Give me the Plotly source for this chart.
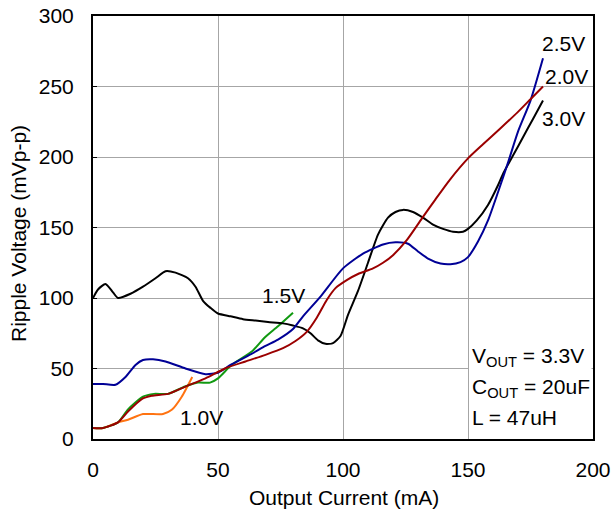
import plotly.graph_objects as go

# 3.0V (black)
x_30 = [0, 2, 5, 8, 10, 15, 20, 25, 29, 33, 38, 41, 44, 47, 50, 55, 60, 65, 70, 76, 80, 84, 87, 90, 93, 96, 99, 102, 106, 110, 114, 118, 121, 124, 128, 132, 136, 140, 144, 148, 150, 153.5, 158, 162, 164, 168, 172, 176, 180]
y_30 = [100, 106, 110, 104, 100, 103, 108, 114, 119, 118, 114, 108, 98, 93, 89, 87, 85, 84, 83, 82, 80.5, 78.5, 75, 70, 67.5, 68, 73, 88, 105, 125, 145, 157, 161, 162.5, 161, 157, 152, 149, 147, 147, 149, 155, 166, 180, 188, 201, 214, 227, 240]

# 2.5V (blue)
x_25 = [0, 4, 9, 13, 17, 20, 24, 29, 37, 45, 50, 55, 63, 69, 74, 80, 84, 91, 100, 108, 116, 121, 126, 130, 134, 139, 143, 147, 150, 154, 158, 162, 166, 170, 175, 180]
y_25 = [39, 39, 38.5, 44, 52.5, 56, 56.5, 55, 50, 46, 47, 52.5, 60, 66, 70.5, 78, 87, 101, 121, 131.5, 138, 139.5, 138.5, 133, 128, 124.5, 124, 125.5, 129, 140, 155, 175, 196, 218, 240, 270]

# 2.0V (dark red)
x_20 = [0, 4, 10, 14, 19.5, 23.5, 30, 37, 45, 53, 61, 69, 76, 81, 85.5, 89.5, 93.5, 97, 101.5, 106, 112, 116, 120, 125.5, 132, 137, 142.8, 150, 156, 162.8, 170, 175, 180]
y_20 = [7.8, 7.8, 11.8, 19.5, 28.3, 30.6, 32, 37.2, 43, 50.2, 55, 59.7, 64.4, 69.5, 76, 86, 98.6, 107, 112.7, 117, 121, 125, 130.4, 141, 157.5, 170, 184, 199, 209, 220, 232, 241, 250]

# 1.5V (green)
x_15 = [0, 4, 10, 14, 20, 24.4, 30, 36.8, 42, 46.8, 50, 55.5, 63.5, 68.8, 74, 80]
y_15 = [7.8, 7.8, 11.8, 21, 30, 32, 32, 37.2, 40, 40, 43, 52.6, 62, 72.2, 80, 89.6]

# 1.0V (orange)
x_10 = [0, 4, 10, 14, 20, 28, 31.5, 35.5, 39.7]
y_10 = [7.8, 7.8, 11.8, 13.7, 17.7, 17.7, 20.7, 30, 44]

x_ticks = [0, 50, 100, 150, 200]
y_ticks = [0, 50, 100, 150, 200, 250, 300]

FONT = "Liberation Sans, Arial, sans-serif"
FS = 21

series = [
    (x_10, y_10, "#ff7311", "1.0V"),
    (x_15, y_15, "#119911", "1.5V"),
    (x_30, y_30, "#000000", "3.0V"),
    (x_25, y_25, "#000096", "2.5V"),
    (x_20, y_20, "#9b0000", "2.0V"),
]

fig = go.Figure()
for xs, ys, col, name in series:
    fig.add_trace(go.Scatter(x=xs, y=ys, mode="lines", name=name,
                             line=dict(color=col, width=2, shape="spline", smoothing=0.6)))

labels = [
    (188, 280.5, "2.5V"),
    (189.5, 257, "2.0V"),
    (188.2, 227, "3.0V"),
    (76, 101.5, "1.5V"),
    (43.5, 15.5, "1.0V"),
]
for lx, ly, t in labels:
    fig.add_annotation(x=lx, y=ly, text=t, showarrow=False,
                       font=dict(family=FONT, size=FS, color="black"))

# white box behind the condition text
fig.add_shape(type="rect", x0=150.4, x1=199.4, y0=0.5, y1=72, layer="between",
              line=dict(width=0), fillcolor="white")

cond = [
    (58.5, "V<sub>OUT</sub> = 3.3V"),
    (36.5, "C<sub>OUT</sub> = 20uF"),
    (15.0, "L = 47uH"),
]
for cy, t in cond:
    fig.add_annotation(x=150.6, y=cy, text=t, showarrow=False, xanchor="left",
                       font=dict(family=FONT, size=FS, color="black"))

# axis titles
fig.add_annotation(xref="paper", yref="paper", x=(344 - 93) / 500, y=(439 - 497) / 423,
                   text="Output Current (mA)", showarrow=False, xanchor="center", yanchor="middle",
                   font=dict(family=FONT, size=FS, color="black"))
fig.add_annotation(xref="paper", yref="paper", x=(18 - 93) / 500, y=(439 - 234) / 423,
                   text="Ripple Voltage (mVp-p)", showarrow=False, textangle=-90,
                   xanchor="center", yanchor="middle",
                   font=dict(family=FONT, size=FS, color="black"))

fig.update_layout(
    width=613, height=513, autosize=False,
    margin=dict(l=93, r=20, t=16, b=74),
    paper_bgcolor="white", plot_bgcolor="white",
    showlegend=False,
    font=dict(family=FONT, size=FS, color="black"),
)
fig.update_xaxes(range=[0, 200], tickvals=x_ticks, showgrid=True, gridcolor="#a6a6a6", gridwidth=1,
                 showline=True, linecolor="black", linewidth=2, mirror=True, zeroline=False,
                 ticks="", ticklabelstandoff=11, automargin=False,
                 tickfont=dict(size=FS))
fig.update_yaxes(range=[0, 300], tickvals=y_ticks, showgrid=True, gridcolor="#a6a6a6", gridwidth=1,
                 showline=True, linecolor="black", linewidth=2, mirror=True, zeroline=False,
                 ticks="inside", ticklen=4, tickcolor="black", ticklabelstandoff=13, automargin=False,
                 tickfont=dict(size=FS))

fig.write_html("out.html", config={"displayModeBar": False},
               post_script="document.body.style.margin='0px';")
